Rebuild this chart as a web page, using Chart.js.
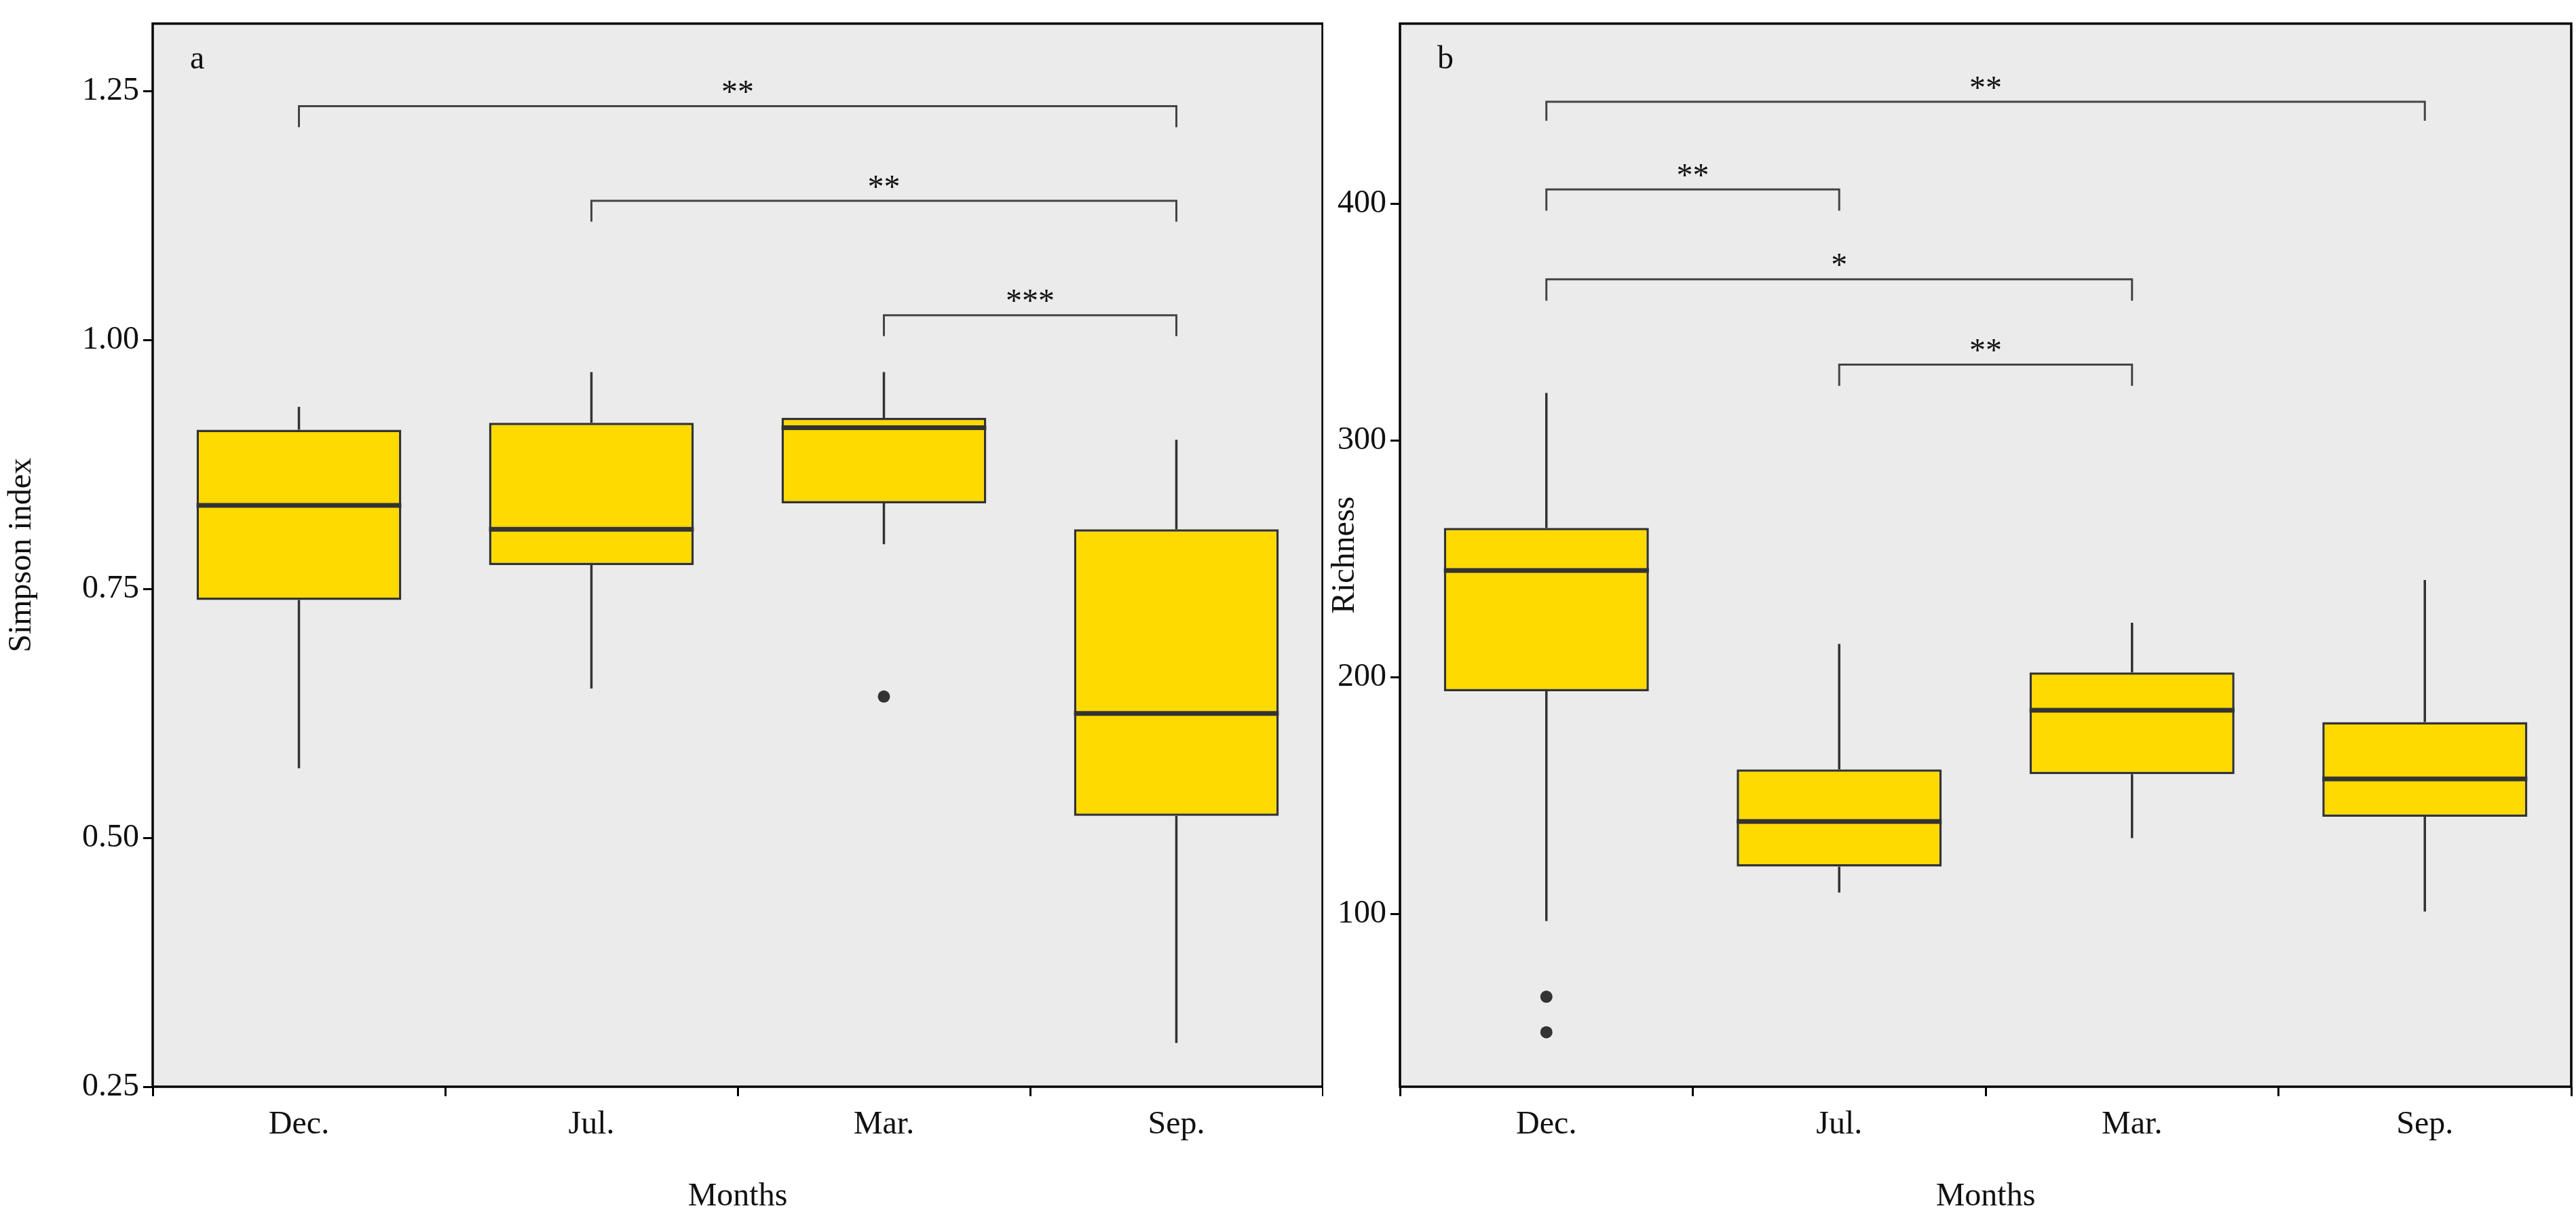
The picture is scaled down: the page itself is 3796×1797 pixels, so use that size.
<!DOCTYPE html>
<html><head><meta charset="utf-8">
<script src="https://cdn.jsdelivr.net/npm/chart.js@4.4.0/dist/chart.umd.min.js"></script>
<style>
body{margin:0;background:#fff;width:3796px;height:1797px;position:relative;overflow:hidden}
.p{position:absolute;top:0;height:1797px}
</style></head><body>
<div class="p" style="left:0;width:1950px"><canvas id="ca"></canvas></div>
<div class="p" style="left:1950px;width:1846px"><canvas id="cb"></canvas></div>
<script>
const MONTHS = ["Dec.","Jul.","Mar.","Sep."];

// panel a: Simpson index
const A_LOW = [0.570, 0.650, 0.795, 0.294];
const A_Q1  = [0.739, 0.774, 0.836, 0.522];
const A_MED = [0.834, 0.810, 0.912, 0.625];
const A_Q3  = [0.910, 0.917, 0.922, 0.810];
const A_HIGH= [0.933, 0.968, 0.968, 0.900];
const A_OUT = [[], [], [0.642], []];
const A_TICKS = [0.25, 0.50, 0.75, 1.00, 1.25];
const A_BRACKETS = [[0,3,1.235,1.214,"**"],[1,3,1.140,1.119,"**"],[2,3,1.025,1.004,"***"]];

// panel b: Richness
const B_LOW = [97, 109, 132, 101];
const B_Q1  = [194, 120, 159, 141];
const B_MED = [245, 139, 186, 157];
const B_Q3  = [263, 161, 202, 181];
const B_HIGH= [320, 214, 223, 241];
const B_OUT = [[65, 50], [], [], []];
const B_TICKS = [100, 200, 300, 400];
const B_BRACKETS = [[0,3,443,435,"**"],[0,1,406,397,"**"],[0,2,368,359,"*"],[1,2,332,323,"**"]];

const FONT = "Liberation Serif";
const INK = "#333333";

const boxPlugin = {
  id: "boxes",
  beforeDraw(chart) {
    const a = chart.chartArea, c = chart.ctx;
    c.save(); c.fillStyle = "#EBEBEB";
    c.fillRect(a.left, a.top, a.right - a.left, a.bottom - a.top);
    c.restore();
  },
  afterDatasetsDraw(chart) {
    const o = chart.config.options.plugins.boxes;
    const c = chart.ctx, x = chart.scales.x, y = chart.scales.y;
    const bars = chart.getDatasetMeta(0).data;
    c.save();
    c.strokeStyle = INK; c.fillStyle = INK;
    o.med.forEach((m, i) => {
      const cx = x.getPixelForValue(i), hw = bars[i].width / 2;
      c.lineWidth = 3.5;
      c.beginPath();
      c.moveTo(cx, y.getPixelForValue(o.q3[i])); c.lineTo(cx, y.getPixelForValue(o.high[i]));
      c.moveTo(cx, y.getPixelForValue(o.q1[i])); c.lineTo(cx, y.getPixelForValue(o.low[i]));
      c.stroke();
      c.lineWidth = 7;
      c.beginPath();
      c.moveTo(cx - hw, y.getPixelForValue(m)); c.lineTo(cx + hw, y.getPixelForValue(m));
      c.stroke();
      o.out[i].forEach(v => {
        c.beginPath(); c.arc(cx, y.getPixelForValue(v), 9, 0, Math.PI * 2); c.fill();
      });
    });
    c.lineWidth = 3; c.strokeStyle = "#444";
    c.font = "48px " + FONT; c.textAlign = "center"; c.textBaseline = "bottom"; c.fillStyle = "#111";
    o.brackets.forEach(([i, j, v, t, s]) => {
      const x1 = x.getPixelForValue(i), x2 = x.getPixelForValue(j);
      const yv = y.getPixelForValue(v), yt = y.getPixelForValue(t);
      c.beginPath();
      c.moveTo(x1, yt); c.lineTo(x1, yv); c.lineTo(x2, yv); c.lineTo(x2, yt);
      c.stroke();
      c.fillText(s, (x1 + x2) / 2, yv + 6);
    });
    const a = chart.chartArea;
    c.strokeStyle = "#000"; c.lineWidth = 3.5;
    c.strokeRect(a.left, a.top, a.right - a.left, a.bottom - a.top);
    c.textAlign = "left"; c.textBaseline = "top"; c.font = "48px " + FONT;
    c.fillText(o.tag, a.left + 55, a.top + 30);
    c.restore();
  }
};

function makeChart(id, p) {
  new Chart(document.getElementById(id), {
    type: "bar",
    data: {
      labels: MONTHS,
      datasets: [{
        data: p.q1.map((v, i) => [v, p.q3[i]]),
        backgroundColor: "#FFDA00",
        borderColor: INK,
        borderWidth: 3.5,
        borderSkipped: false,
        categoryPercentage: 1,
        barPercentage: 0.7
      }]
    },
    options: {
      responsive: true, maintainAspectRatio: false, animation: false,
      layout: { padding: { top: 5, right: p.padR, left: 0, bottom: 0 } },
      plugins: { legend: { display: false }, tooltip: { enabled: false }, boxes: p },
      scales: {
        x: {
          grid: { display: true, drawOnChartArea: false, tickLength: 14, color: "#000", lineWidth: 3 },
          border: { display: false },
          ticks: { font: { family: FONT, size: 48 }, color: "#111", padding: 14 },
          title: { display: true, text: "Months", font: { family: FONT, size: 48 }, color: "#111", padding: { top: 40 } },
          afterFit(s) { s.height = 195; }
        },
        y: {
          min: p.min, max: p.max,
          afterBuildTicks(s) { s.ticks = p.ticks.map(v => ({ value: v })); },
          grid: { display: true, drawOnChartArea: false, tickLength: 14, color: "#000", lineWidth: 3 },
          border: { display: false },
          ticks: { font: { family: FONT, size: 48 }, color: "#111", padding: 6,
                   callback: v => p.fmt(v) },
          title: { display: true, text: p.title, font: { family: FONT, size: 48 }, color: "#111", padding: { bottom: 4 } },
          afterFit(s) { s.width = p.yw; }
        }
      }
    },
    plugins: [boxPlugin]
  });
}

makeChart("ca", { low: A_LOW, q1: A_Q1, med: A_MED, q3: A_Q3, high: A_HIGH, out: A_OUT,
  ticks: A_TICKS, brackets: A_BRACKETS, min: 0.25, max: 1.318, title: "Simpson index", tag: "a",
  fmt: v => v.toFixed(2), yw: 225, padR: 1 });
makeChart("cb", { low: B_LOW, q1: B_Q1, med: B_MED, q3: B_Q3, high: B_HIGH, out: B_OUT,
  ticks: B_TICKS, brackets: B_BRACKETS, min: 27, max: 476, title: "Richness", tag: "b",
  fmt: v => String(v), yw: 113, padR: 7 });
</script>
</body></html>
